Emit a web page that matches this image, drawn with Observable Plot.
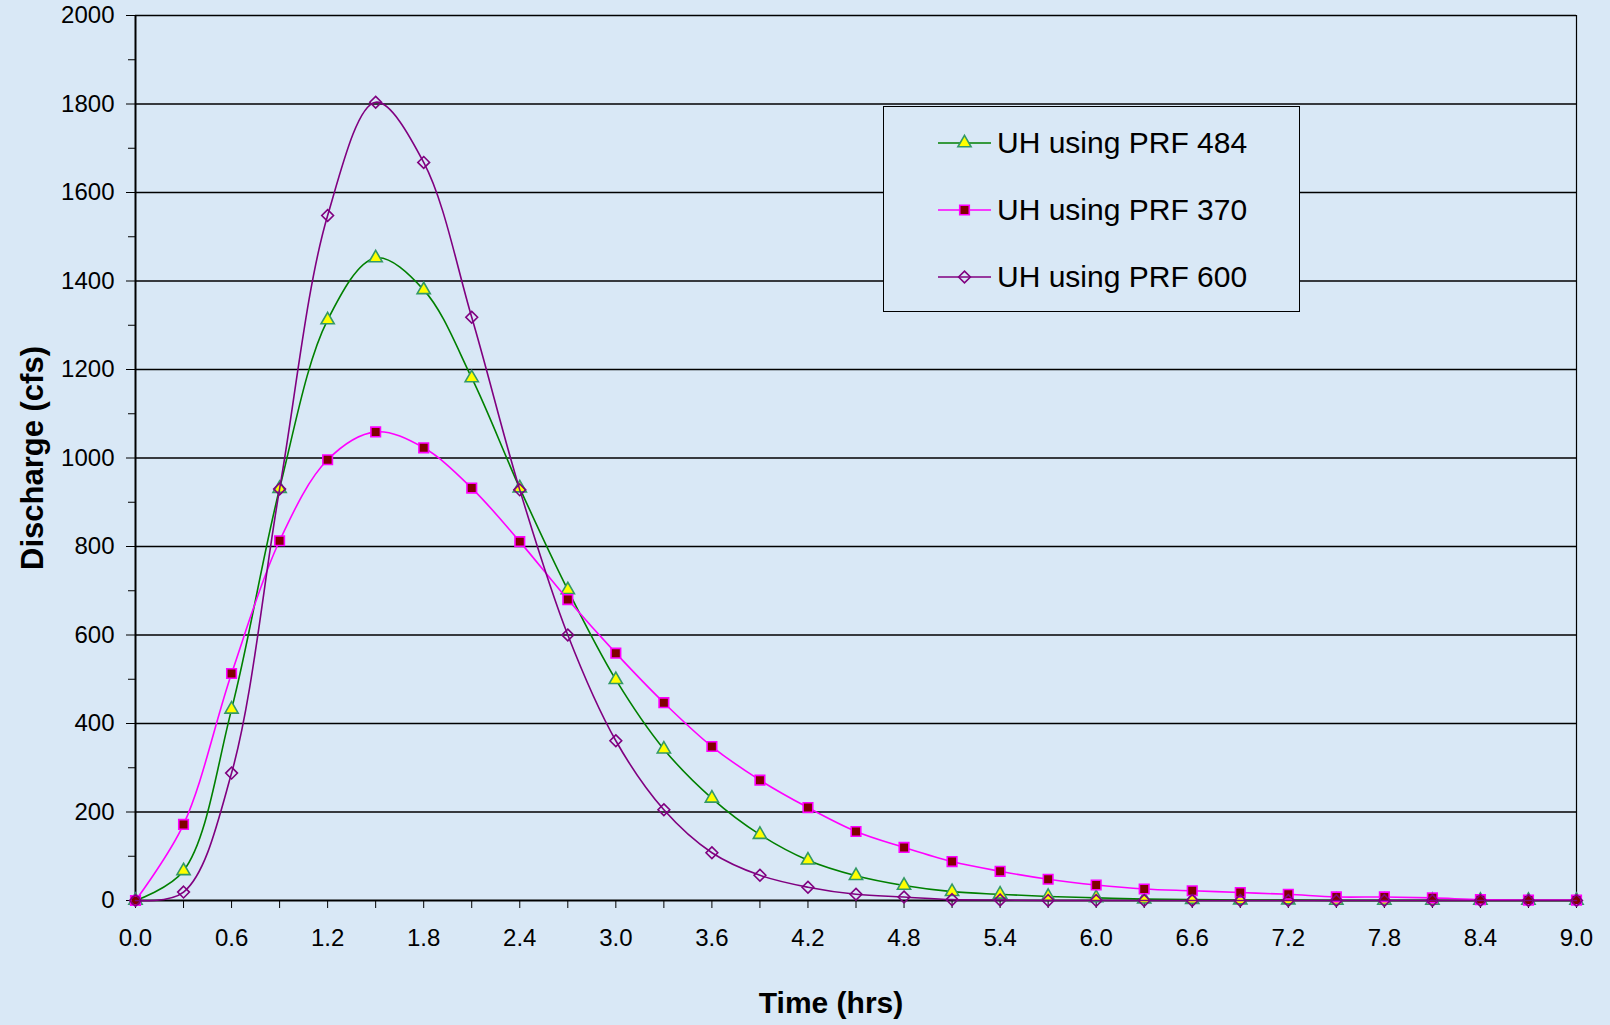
<!DOCTYPE html>
<html>
<head>
<meta charset="utf-8">
<script src="https://cdn.jsdelivr.net/npm/d3@7"></script>
<script src="https://cdn.jsdelivr.net/npm/@observablehq/plot@0.6"></script>
<style>
  html, body { margin: 0; padding: 0; background: #d9e8f6; }
  #wrap { position: relative; width: 1610px; height: 1025px; font-family: "Liberation Sans", Arial, sans-serif; }
  #legend {
    position: absolute; left: 883px; top: 106px; width: 415px; height: 204px;
    border: 1.5px solid #000; background: #d9e8f6; box-sizing: content-box;
  }
  .row { position: absolute; left: 0; height: 40px; display: flex; align-items: center; }
  .row svg { margin-left: 54px; }
  .row span { margin-left: 6px; font-size: 30px; color: #000; }
</style>
</head>
<body>
<div id="wrap">
  <div id="chart"></div>
  <div id="legend"></div>
</div>
<script>
// Time (hrs)
const time = [0.0,0.3,0.6,0.9,1.2,1.5,1.8,2.1,2.4,2.7,3.0,3.3,3.6,3.9,4.2,4.5,4.8,5.1,5.4,5.7,6.0,6.3,6.6,6.9,7.2,7.5,7.8,8.1,8.4,8.7,9.0];
// Discharge (cfs)
const prf484 = [0,67,432,931,1312,1452,1380,1181,932,702,499,342,231,149,91,56,34,20,14,9,6,3,2,1,1,0,0,0,0,0,0];
const prf370 = [0,172,513,813,996,1059,1023,932,811,680,559,447,348,272,210,156,120,88,66,48,35,26,22,18,14,8,8,6,2,1,1];
const prf600 = [0,19,288,930,1548,1804,1668,1318,928,600,361,205,108,57,30,14,8,2,1,0,0,0,0,0,0,0,0,0,0,0,0];
const seriesNames = ["UH using PRF 484", "UH using PRF 370", "UH using PRF 600"];
const yMajor = [0,200,400,600,800,1000,1200,1400,1600,1800,2000];
const yMinor = [100,300,500,700,900,1100,1300,1500,1700,1900];
const xLabeled = [0.0,0.6,1.2,1.8,2.4,3.0,3.6,4.2,4.8,5.4,6.0,6.6,7.2,7.8,8.4,9.0];
const xUnlabeled = [0.3,0.9,1.5,2.1,2.7,3.3,3.9,4.5,5.1,5.7,6.3,6.9,7.5,8.1,8.7];

const rows = (vals) => time.map((t, i) => ({t, q: vals[i]}));
const d484 = rows(prf484), d370 = rows(prf370), d600 = rows(prf600);

const styles = [
  {line: "#008000", symbol: "triangle", fill: "#ffff00", stroke: "#339966", r: 4.9},
  {line: "#ff00ff", symbol: "square", fill: "#800000", stroke: "#ff00ff", r: 5.4},
  {line: "#800080", symbol: "diamond2", fill: "none", stroke: "#800080", r: 5.3}
];
const datasets = [d484, d370, d600];

const seriesMarks = datasets.flatMap((d, i) => [
  Plot.line(d, {x: "t", y: "q", stroke: styles[i].line, strokeWidth: 1.6, curve: "catmull-rom"}),
  Plot.dot(d, {x: "t", y: "q", symbol: () => styles[i].symbol, r: styles[i].r,
    fill: styles[i].fill, stroke: styles[i].stroke, strokeWidth: 1.6})
]);

const chart = Plot.plot({
  width: 1610, height: 1025,
  marginLeft: 135, marginRight: 34, marginTop: 15, marginBottom: 125,
  style: {background: "transparent", fontFamily: "'Liberation Sans', Arial, sans-serif", fontSize: "24px", color: "#000"},
  x: {domain: [0, 9]},
  y: {domain: [0, 2000]},
  symbol: {type: "identity"},
  marks: [
    Plot.gridY(yMajor.filter(v => v > 0), {stroke: "#000", strokeOpacity: 1, strokeWidth: 1.3}),
    Plot.ruleX([9], {stroke: "#000", strokeWidth: 1.2}),
    Plot.axisY(yMajor, {tickSize: 9, tickPadding: 12, tickFormat: d3.format("d"), label: null, fontSize: 24, stroke: "#000"}),
    Plot.axisY(yMinor, {tickSize: 7, text: null, label: null, stroke: "#000"}),
    Plot.axisX(xLabeled, {tickSize: 8, tickPadding: 20, tickFormat: d3.format(".1f"), label: null, fontSize: 24, stroke: "#000"}),
    Plot.axisX(xUnlabeled, {tickSize: 8, text: null, label: null, stroke: "#000"}),
    Plot.ruleX([0], {stroke: "#000", strokeWidth: 2}),
    Plot.ruleY([0], {stroke: "#000", strokeWidth: 2}),
    ...seriesMarks,
    Plot.text(["Discharge (cfs)"], {text: d => d, frameAnchor: "left", dx: -102, rotate: -90,
      textAnchor: "middle", fontSize: 31, fontWeight: "bold", lineAnchor: "middle", fill: "#000"}),
    Plot.text(["Time (hrs)"], {text: d => d, frameAnchor: "bottom", dx: -25, dy: 103,
      textAnchor: "middle", fontSize: 30, fontWeight: "bold", lineAnchor: "middle", fill: "#000"})
  ]
});
document.getElementById("chart").appendChild(chart);

// Legend (overlay inside plot area)
const legend = document.getElementById("legend");
const rowTops = [16, 83, 150];
const symPath = (s, r) => d3.symbol(s === "triangle" ? d3.symbolTriangle : s === "square" ? d3.symbolSquare : d3.symbolDiamond2, r * r * Math.PI)();
seriesNames.forEach((name, i) => {
  const st = styles[i];
  const row = document.createElement("div");
  row.className = "row";
  row.style.top = rowTops[i] + "px";
  row.innerHTML = `<svg width="53" height="20" viewBox="0 0 53 20">
    <line x1="0" x2="53" y1="10" y2="10" stroke="${st.line}" stroke-width="1.6"/>
    <path transform="translate(26.5,10)" d="${symPath(st.symbol, st.r)}" fill="${st.fill}" stroke="${st.stroke}" stroke-width="1.6"/>
  </svg><span>${name}</span>`;
  legend.appendChild(row);
});
</script>
</body>
</html>
